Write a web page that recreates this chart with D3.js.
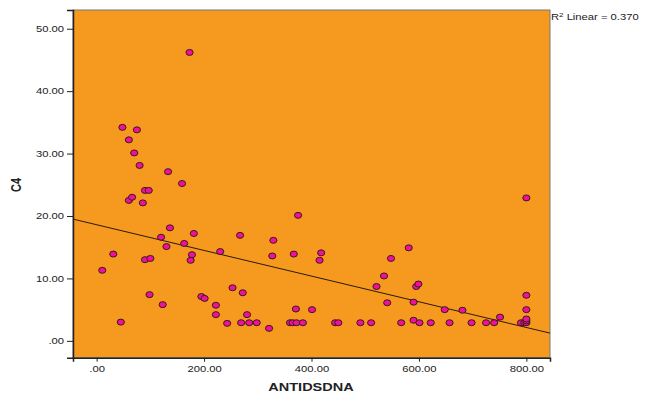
<!DOCTYPE html>
<html>
<head>
<meta charset="utf-8">
<script src="https://cdn.jsdelivr.net/npm/d3@7"></script>
<style>
  body { margin: 0; background: #fff; }
  text { font-family: "Liberation Sans", Arial, sans-serif; fill: #222; }
  .axis path, .axis line { stroke: #222; }
</style>
</head>
<body>
<script>
// ANTIDSDNA values (x) and matching C4 values (y)
var antidsdna = [10.5, 31, 45, 48, 60, 60, 66, 70, 75, 80, 86, 90, 97, 90, 100, 98.5,
  120, 123, 130, 133, 136.5, 159, 163, 173, 175, 177.5, 181, 195, 201, 222, 222, 230,
  243, 253, 267, 269, 272, 280, 284, 298, 321, 329, 327, 360, 365, 367, 371, 372, 375,
  384, 401, 415, 418, 444, 450, 491, 511, 521, 535, 541, 548, 567, 581, 590, 590, 595,
  599, 601, 622, 648, 657, 681, 698, 725, 740, 751, 790, 796, 800, 800, 800, 800, 800, 800];
var c4 = [11.3, 13.9, 3.0, 34.2, 32.2, 22.5, 23.0, 30.1, 33.8, 28.1, 22.1, 24.1, 24.1, 13.0, 13.2, 7.4,
  16.6, 5.8, 15.1, 27.1, 18.1, 25.2, 15.6, 46.2, 12.9, 13.8, 17.2, 7.1, 6.8, 5.7, 4.2, 14.3,
  2.8, 8.5, 16.9, 2.9, 7.7, 4.2, 2.9, 2.9, 2.0, 16.1, 13.6, 2.9, 2.9, 13.9, 5.1, 2.9, 20.1,
  2.9, 5.0, 12.9, 14.1, 2.9, 2.9, 2.9, 2.9, 8.7, 10.4, 6.1, 13.2, 2.9, 14.9, 6.2, 3.3, 8.7,
  9.1, 2.9, 2.9, 5.0, 2.9, 4.9, 2.9, 2.9, 2.9, 3.8, 2.9, 2.9, 2.9, 3.2, 3.5, 5.0, 7.3, 22.9];

// Fit line as drawn (C4 = intercept + slope * ANTIDSDNA)
var fitIntercept = 18.6;
var fitSlope = -0.02057;
var fitLabel = "Linear = 0.370";

var xTicks = [0, 200, 400, 600, 800];
var xTickLabels = [".00", "200.00", "400.00", "600.00", "800.00"];
var yTicks = [0, 10, 20, 30, 40, 50];
var yTickLabels = [".00", "10.00", "20.00", "30.00", "40.00", "50.00"];

var svgWidth = 650;
var svgHeight = 397;
var margin = { top: 10, right: 100, bottom: 39.3, left: 73 };
var chartWidth = svgWidth - margin.left - margin.right;
var chartHeight = svgHeight - margin.top - margin.bottom;
var stretch = 1.32;

var svg = d3.select("body").append("svg")
  .attr("width", svgWidth)
  .attr("height", svgHeight);

var chartGroup = svg.append("g")
  .attr("transform", `translate(${margin.left}, ${margin.top})`);

var xScale = d3.scaleLinear().domain([-44, 844]).range([0, chartWidth]);
var yScale = d3.scaleLinear().domain([-2.7, 53.0]).range([chartHeight, 0]);

// orange plot background with frame
chartGroup.append("rect")
  .attr("width", chartWidth)
  .attr("height", chartHeight)
  .attr("fill", "#f6991f")
  .attr("stroke", "#777")
  .attr("stroke-width", 1);

// regression line
var fitLine = d3.line()
  .x(d => xScale(d))
  .y(d => yScale(fitIntercept + fitSlope * d));
chartGroup.append("path")
  .attr("d", fitLine(xScale.domain()))
  .attr("fill", "none")
  .attr("stroke", "#2a1a08")
  .attr("stroke-width", 1);

// points
var points = antidsdna.map((d, i) => ({ x: d, y: c4[i] }));
chartGroup.selectAll("ellipse")
  .data(points)
  .enter()
  .append("ellipse")
  .attr("cx", d => xScale(d.x))
  .attr("cy", d => yScale(d.y))
  .attr("rx", 3.6)
  .attr("ry", 3)
  .attr("fill", "#f0109a")
  .attr("stroke", "#3a1a1a")
  .attr("stroke-width", 1);

// axes
var leftAxis = d3.axisLeft(yScale).tickValues(yTicks)
  .tickFormat((d, i) => yTickLabels[i]).tickSizeOuter(0).tickSize(6).tickPadding(3);
var bottomAxis = d3.axisBottom(xScale).tickValues(xTicks)
  .tickFormat((d, i) => xTickLabels[i]).tickSizeOuter(0).tickSize(4).tickPadding(4);

var yAxisG = chartGroup.append("g").classed("axis", true).call(leftAxis);
var xAxisG = chartGroup.append("g").classed("axis", true)
  .attr("transform", "translate(0, " + chartHeight + ")")
  .call(bottomAxis);

[yAxisG, xAxisG].forEach(function(g) {
  g.select(".domain").attr("stroke-width", 1.5);
  g.selectAll("text")
    .attr("font-size", 8.5)
    .attr("fill", "#333")
    .each(function() {
      var w = this.getComputedTextLength();
      d3.select(this).attr("textLength", w * stretch).attr("lengthAdjust", "spacingAndGlyphs");
    });
});

// axis titles
svg.append("text")
  .attr("transform", "translate(21, 185) scale(" + stretch + ",1) rotate(-90)")
  .attr("text-anchor", "middle")
  .attr("font-size", 11)
  .attr("font-weight", "bold")
  .text("C4");

svg.append("text")
  .attr("transform", "translate(311, 391) scale(" + stretch + ",1)")
  .attr("text-anchor", "middle")
  .attr("font-size", 11)
  .attr("font-weight", "bold")
  .text("ANTIDSDNA");

// R squared label
var r2 = svg.append("text")
  .attr("x", margin.left + chartWidth + 1)
  .attr("y", 20)
  .attr("font-size", 8.5)
  .attr("fill", "#222");
r2.append("tspan").text("R");
r2.append("tspan").attr("dy", -3).attr("font-size", 6).text("2");
r2.append("tspan").attr("dy", 3).text(" " + fitLabel);
r2.attr("textLength", r2.node().getComputedTextLength() * stretch)
  .attr("lengthAdjust", "spacingAndGlyphs");
</script>
</body>
</html>
